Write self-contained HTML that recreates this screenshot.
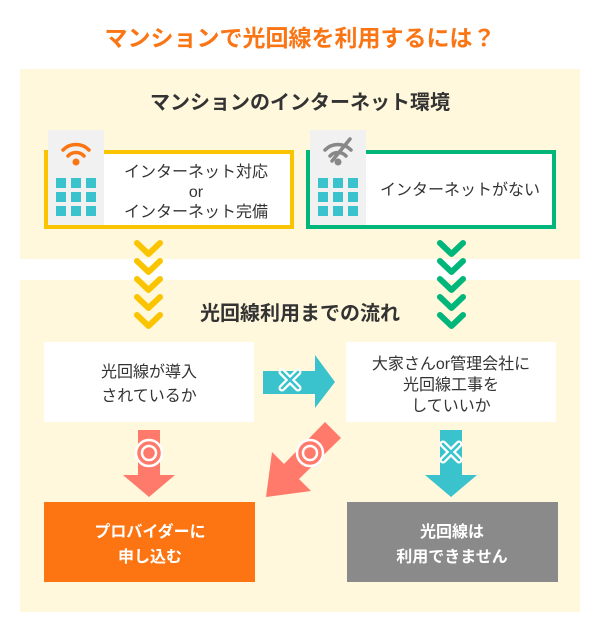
<!DOCTYPE html>
<html><head><meta charset="utf-8"><style>
html,body{margin:0;padding:0;background:#fff;}
svg{display:block}
text{font-family:"Liberation Sans","Noto Sans CJK JP",sans-serif;}
</style></head><body>
<svg width="600" height="638" viewBox="0 0 600 638" xmlns="http://www.w3.org/2000/svg">
<text x="300" y="46" text-anchor="middle" font-size="23" font-weight="bold" fill="#fa7514">マンションで光回線を利用するには？</text>
<rect x="20" y="69" width="560" height="190" fill="#fff8dc"/>
<rect x="20" y="280" width="560" height="332" fill="#fff8dc"/>
<text x="300" y="109" text-anchor="middle" font-size="20" font-weight="bold" fill="#333">マンションのインターネット環境</text>

<!-- left box -->
<rect x="46" y="152" width="246" height="75" fill="#fff" stroke="#fbc400" stroke-width="4"/>
<rect x="48" y="130" width="56" height="95" fill="#f1f1f1"/>
<g fill="none" stroke="#fa7514" stroke-width="3.5" stroke-linecap="round">
<path d="M63 150 A18 18 0 0 1 89 150"/><path d="M68 156 A11 11 0 0 1 84 156"/>
</g>
<circle cx="76" cy="162" r="3.5" fill="#fa7514"/>
<g fill="#3bc3cd">
<rect x="56" y="178" width="10" height="10"/><rect x="71" y="178" width="10" height="10"/><rect x="86" y="178" width="10" height="10"/>
<rect x="56" y="192" width="10" height="10"/><rect x="71" y="192" width="10" height="10"/><rect x="86" y="192" width="10" height="10"/>
<rect x="56" y="206" width="10" height="10"/><rect x="71" y="206" width="10" height="10"/><rect x="86" y="206" width="10" height="10"/>
</g>
<g font-size="16" fill="#333" text-anchor="middle">
<text x="196" y="177">インターネット対応</text>
<text x="196" y="197">or</text>
<text x="196" y="217">インターネット完備</text>
</g>

<!-- right box -->
<rect x="308" y="152" width="246" height="75" fill="#fff" stroke="#00b67a" stroke-width="4"/>
<rect x="310" y="130" width="56" height="95" fill="#f1f1f1"/>
<g fill="none" stroke="#888" stroke-width="3.5" stroke-linecap="round">
<path d="M325 150 A18 18 0 0 1 351 150"/><path d="M330 156 A11 11 0 0 1 346 156"/>
<path d="M350 139 L332 161"/>
</g>
<circle cx="338" cy="162" r="3.5" fill="#888"/>
<g fill="#3bc3cd">
<rect x="318" y="178" width="10" height="10"/><rect x="333" y="178" width="10" height="10"/><rect x="348" y="178" width="10" height="10"/>
<rect x="318" y="192" width="10" height="10"/><rect x="333" y="192" width="10" height="10"/><rect x="348" y="192" width="10" height="10"/>
<rect x="318" y="206" width="10" height="10"/><rect x="333" y="206" width="10" height="10"/><rect x="348" y="206" width="10" height="10"/>
</g>
<text x="460" y="195" text-anchor="middle" font-size="16" fill="#333">インターネットがない</text>

<!-- chevrons -->
<g fill="none" stroke="#fbc400" stroke-width="6" stroke-linecap="round" stroke-linejoin="round">
<path d="M137 243 L148.5 254 L160 243"/><path d="M137 261 L148.5 272 L160 261"/><path d="M137 279 L148.5 290 L160 279"/><path d="M137 297 L148.5 308 L160 297"/><path d="M137 315 L148.5 326 L160 315"/>
</g>
<g fill="none" stroke="#00b67a" stroke-width="6" stroke-linecap="round" stroke-linejoin="round">
<path d="M440 243 L451.5 254 L463 243"/><path d="M440 261 L451.5 272 L463 261"/><path d="M440 279 L451.5 290 L463 279"/><path d="M440 297 L451.5 308 L463 297"/><path d="M440 315 L451.5 326 L463 315"/>
</g>
<text x="300" y="320" text-anchor="middle" font-size="20" font-weight="bold" fill="#333">光回線利用までの流れ</text>

<!-- flow boxes -->
<rect x="44" y="342" width="210" height="80" fill="#fff"/>
<rect x="346" y="342" width="210" height="80" fill="#fff"/>
<g font-size="16" fill="#333" text-anchor="middle">
<text x="149" y="377">光回線が導入</text>
<text x="149" y="401">されているか</text>
</g>
<g font-size="16" fill="#333" text-anchor="middle">
<text x="451" y="369">大家さんor管理会社に</text>
<text x="451" y="390">光回線工事を</text>
<text x="451" y="411">していいか</text>
</g>

<!-- right arrow -->
<polygon points="263,371 315,371 315,355 335,382 315,408 315,394 263,394" fill="#3bc3cd"/>
<g stroke-linecap="round"><path d="M282 372 L298 388 M298 372 L282 388" stroke="#fff" stroke-width="7"/><path d="M282 372 L298 388 M298 372 L282 388" stroke="#3bc3cd" stroke-width="2.5"/></g>

<!-- left down arrow coral -->
<polygon points="138,430 160,430 160,475 175,475 149,497 123,475 138,475" fill="#ff7a6a"/>
<circle cx="149" cy="453" r="13" fill="#ff7a6a" stroke="#fff" stroke-width="2.5"/>
<circle cx="149" cy="453" r="7" fill="#ff7a6a" stroke="#fff" stroke-width="2.5"/>

<!-- diagonal arrow -->
<polygon points="325,422 341,438 299,479 311,491 266,497 272,452 284,464" fill="#ff7a6a"/>
<circle cx="310" cy="453" r="13" fill="#ff7a6a" stroke="#fff" stroke-width="2.5"/>
<circle cx="310" cy="453" r="7" fill="#ff7a6a" stroke="#fff" stroke-width="2.5"/>

<!-- right down arrow teal -->
<polygon points="440,430 462,430 462,475 477,475 451,497 425,475 440,475" fill="#3bc3cd"/>
<g stroke-linecap="round"><path d="M443 444 L459 460 M459 444 L443 460" stroke="#fff" stroke-width="7"/><path d="M443 444 L459 460 M459 444 L443 460" stroke="#3bc3cd" stroke-width="2.5"/></g>

<!-- bottom boxes -->
<rect x="44" y="502" width="211" height="80" fill="#fd7512"/>
<rect x="347" y="502" width="211" height="80" fill="#8a8a8a"/>
<g font-size="16" font-weight="bold" fill="#fff" text-anchor="middle">
<text x="150" y="537">プロバイダーに</text>
<text x="150" y="562">申し込む</text>
<text x="452" y="537">光回線は</text>
<text x="452" y="562">利用できません</text>
</g>
</svg>
</body></html>
